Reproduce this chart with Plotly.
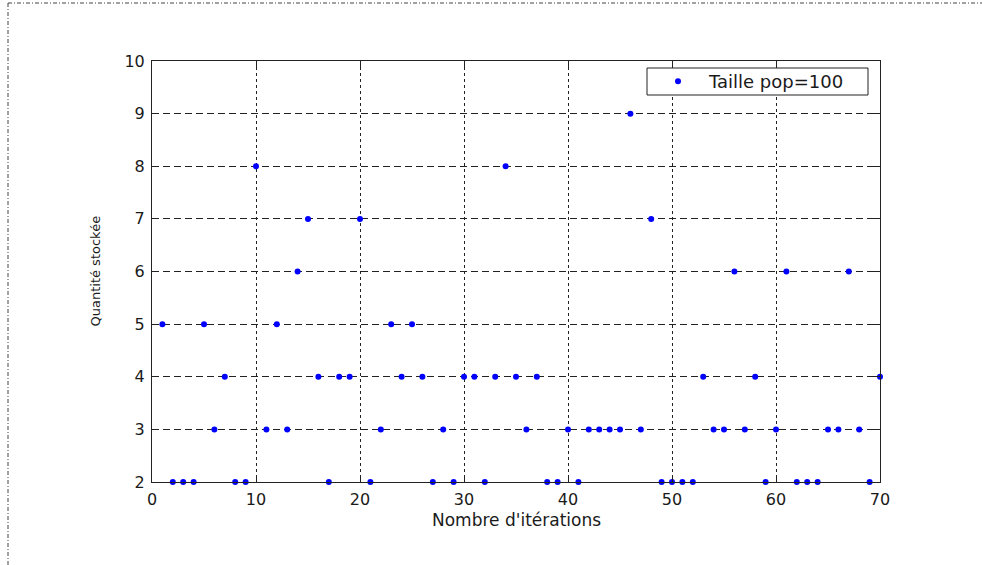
import plotly.graph_objects as go

iterations = list(range(1, 71))
quantite = [5, 2, 2, 2, 5, 3, 4, 2, 2, 8,
            3, 5, 3, 6, 7, 4, 2, 4, 4, 7,
            2, 3, 5, 4, 5, 4, 2, 3, 2, 4,
            4, 2, 4, 8, 4, 3, 4, 2, 2, 3,
            2, 3, 3, 3, 3, 9, 3, 7, 2, 2,
            2, 2, 4, 3, 3, 6, 3, 4, 2, 3,
            6, 2, 2, 2, 3, 3, 6, 3, 2, 4]
x_ticks = [0, 10, 20, 30, 40, 50, 60, 70]
y_ticks = [2, 3, 4, 5, 6, 7, 8, 9, 10]
series_name = "Taille pop=100"
x_title = "Nombre d'itérations"
y_title = "Quantité stockée"

W, H = 982, 565
L, R, T, B = 152, 880, 61, 482

FONT = "DejaVu Sans"
TXT = "#1a1a1a"

fig = go.Figure()
fig.add_trace(go.Scatter(
    x=iterations, y=quantite, mode="markers", name=series_name,
    marker=dict(color="#0000ff", size=6, symbol="circle", line=dict(width=0)),
    cliponaxis=False, showlegend=True,
))

axis_common = dict(
    showline=True, linecolor="#222", linewidth=1, mirror="allticks",
    ticks="inside", ticklen=6, tickcolor="#222", tickwidth=1,
    showgrid=True, gridcolor="#222", gridwidth=1,
    zeroline=False, tickfont=dict(family=FONT, size=16, color=TXT),
    ticklabelstandoff=3,
)

fig.update_xaxes(range=[0, 70], tickvals=x_ticks, ticktext=[str(v) for v in x_ticks],
                 griddash="3px,3px", **axis_common)
fig.update_yaxes(range=[2, 10], tickvals=y_ticks, ticktext=[str(v) for v in y_ticks],
                 griddash="7px,4px", **axis_common)

def px2paper_x(px):
    return (px - L) / (R - L)

def px2paper_y(py):
    return (B - py) / (B - T)

shapes = [
    dict(type="line", xref="paper", yref="paper",
         x0=px2paper_x(8), x1=px2paper_x(982), y0=px2paper_y(3), y1=px2paper_y(3),
         line=dict(color="#444", width=1, dash="4px,2px,1px,2px")),
    dict(type="line", xref="paper", yref="paper",
         x0=px2paper_x(8), x1=px2paper_x(8), y0=px2paper_y(3), y1=px2paper_y(565),
         line=dict(color="#444", width=1, dash="4px,2px,1px,2px")),
    # legend box
    dict(type="rect", xref="paper", yref="paper", layer="above",
         x0=px2paper_x(647), x1=px2paper_x(868), y0=px2paper_y(95), y1=px2paper_y(68),
         fillcolor="white", line=dict(color="#222", width=1)),
]

annotations = [
    dict(text=x_title, xref="paper", yref="paper", x=0.5, y=px2paper_y(520),
         xanchor="center", yanchor="middle", showarrow=False,
         font=dict(family=FONT, size=17, color=TXT)),
    dict(text=y_title, xref="paper", yref="paper", x=px2paper_x(95), y=0.5,
         xanchor="center", yanchor="middle", textangle=-90, showarrow=False,
         font=dict(family=FONT, size=13, color=TXT)),
]

fig.update_layout(
    width=W, height=H,
    margin=dict(l=L, r=W - R, t=T, b=H - B, autoexpand=False),
    paper_bgcolor="white", plot_bgcolor="white",
    shapes=shapes, annotations=annotations,
    showlegend=True,
    legend=dict(
        x=px2paper_x(647), y=px2paper_y(63), xanchor="left", yanchor="top",
        bgcolor="rgba(0,0,0,0)", borderwidth=0,
        font=dict(family=FONT, size=18, color=TXT),
        itemwidth=52,
    ),
)

fig.write_html("out.html")
